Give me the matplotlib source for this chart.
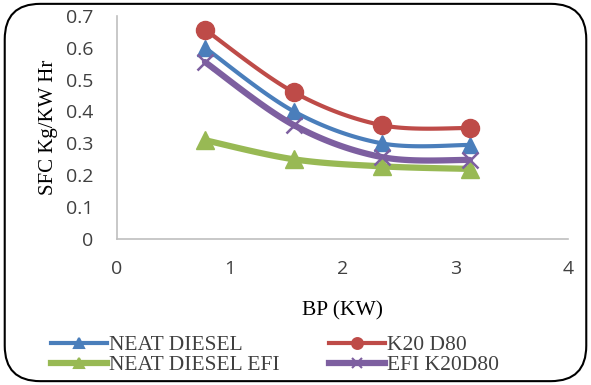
import numpy as np
import matplotlib.pyplot as plt
from matplotlib.patches import FancyBboxPatch
from matplotlib.lines import Line2D

# data
bp = [0.78, 1.57, 2.35, 3.13]
neat_diesel = [0.60, 0.40, 0.30, 0.295]
k20_d80 = [0.657, 0.46, 0.357, 0.348]
neat_diesel_efi = [0.31, 0.25, 0.228, 0.22]
efi_k20d80 = [0.555, 0.357, 0.257, 0.248]

labels = ["NEAT DIESEL", "K20 D80", "NEAT DIESEL EFI", "EFI K20D80"]
colors = ["#4a7ebb", "#be4b48", "#98b954", "#7d5fa0"]
markers = ["^", "o", "^", "x"]
series = [neat_diesel, k20_d80, neat_diesel_efi, efi_k20d80]


def smooth(x, y, n=30):
    # excel-like smoothed line (catmull-rom through the points)
    x = np.asarray(x, float)
    y = np.asarray(y, float)
    px = np.concatenate([[x[0]], x, [x[-1]]])
    py = np.concatenate([[y[0]], y, [y[-1]]])
    xs, ys = [], []
    t = np.linspace(0, 1, n)
    for i in range(1, len(px) - 2):
        p0, p1, p2, p3 = px[i - 1], px[i], px[i + 1], px[i + 2]
        q0, q1, q2, q3 = py[i - 1], py[i], py[i + 1], py[i + 2]
        for a, b, c, d, out in [(p0, p1, p2, p3, xs), (q0, q1, q2, q3, ys)]:
            out.extend(0.5 * ((2 * b) + (-a + c) * t + (2 * a - 5 * b + 4 * c - d) * t ** 2
                              + (-a + 3 * b - 3 * c + d) * t ** 3))
    return xs, ys


fig = plt.figure(figsize=(5.91, 3.85), dpi=100)
frame = FancyBboxPatch((0.008, 0.01), 0.984, 0.98, boxstyle="round,pad=0,rounding_size=0.06",
                       transform=fig.transFigure, fill=False, ec="black", lw=1.5,
                       mutation_aspect=591 / 385)
fig.patches.append(frame)

ax = fig.add_axes([0.198, 0.379, 0.763, 0.58])

widths = [3, 3, 4.5, 4.5]
msizes = [12, 13, 13, 12]
for ys, c, m, lw, ms in zip(series, colors, markers, widths, msizes):
    sx, sy = smooth(bp, ys)
    ax.plot(sx, sy, color=c, lw=lw, solid_capstyle="round", zorder=2)
    if m == "x":
        ax.plot(bp, ys, ls="none", marker=m, color=c, ms=ms, mew=1.8, zorder=3)
    else:
        ax.plot(bp, ys, ls="none", marker=m, color=c, ms=ms, mec=c, zorder=3)

ax.set_xlim(0, 4)
ax.set_ylim(0, 0.7)
ax.set_xticks([0, 1, 2, 3, 4])
ax.set_yticks(np.arange(0, 0.71, 0.1))
ax.set_yticklabels(["0", "0.1", "0.2", "0.3", "0.4", "0.5", "0.6", "0.7"])
for s in ["top", "right"]:
    ax.spines[s].set_visible(False)
for s in ["left", "bottom"]:
    ax.spines[s].set_color("#bfbfbf")
    ax.spines[s].set_linewidth(1.2)
ax.tick_params(length=0, labelsize=14, labelcolor="#404040")
ax.tick_params(axis="y", pad=17)
ax.tick_params(axis="x", pad=15)
for t in ax.get_xticklabels() + ax.get_yticklabels():
    t.set_fontfamily("Open Sans")

ax.set_xlabel("BP (KW)", family="Liberation Serif", fontsize=15.5, labelpad=17)
ax.set_ylabel("SFC Kg/KW Hr", family="Liberation Serif", fontsize=15, labelpad=6)

# legend fills row by row in the reference
order = [0, 2, 1, 3]
handles = [Line2D([], [], color=colors[i], lw=widths[i], marker=markers[i],
                  ms=msizes[i] * 0.6, mew=1.5) for i in order]
fig.legend(handles, [labels[i] for i in order], loc="lower left",
           bbox_to_anchor=(0.053, -0.025), ncol=2,
           frameon=False, prop={"family": "Liberation Serif", "size": 15.5},
           labelcolor="#404040", handlelength=2.6, handletextpad=0.1,
           columnspacing=2.3, labelspacing=0.0)

fig.savefig("out.png", dpi=100)
